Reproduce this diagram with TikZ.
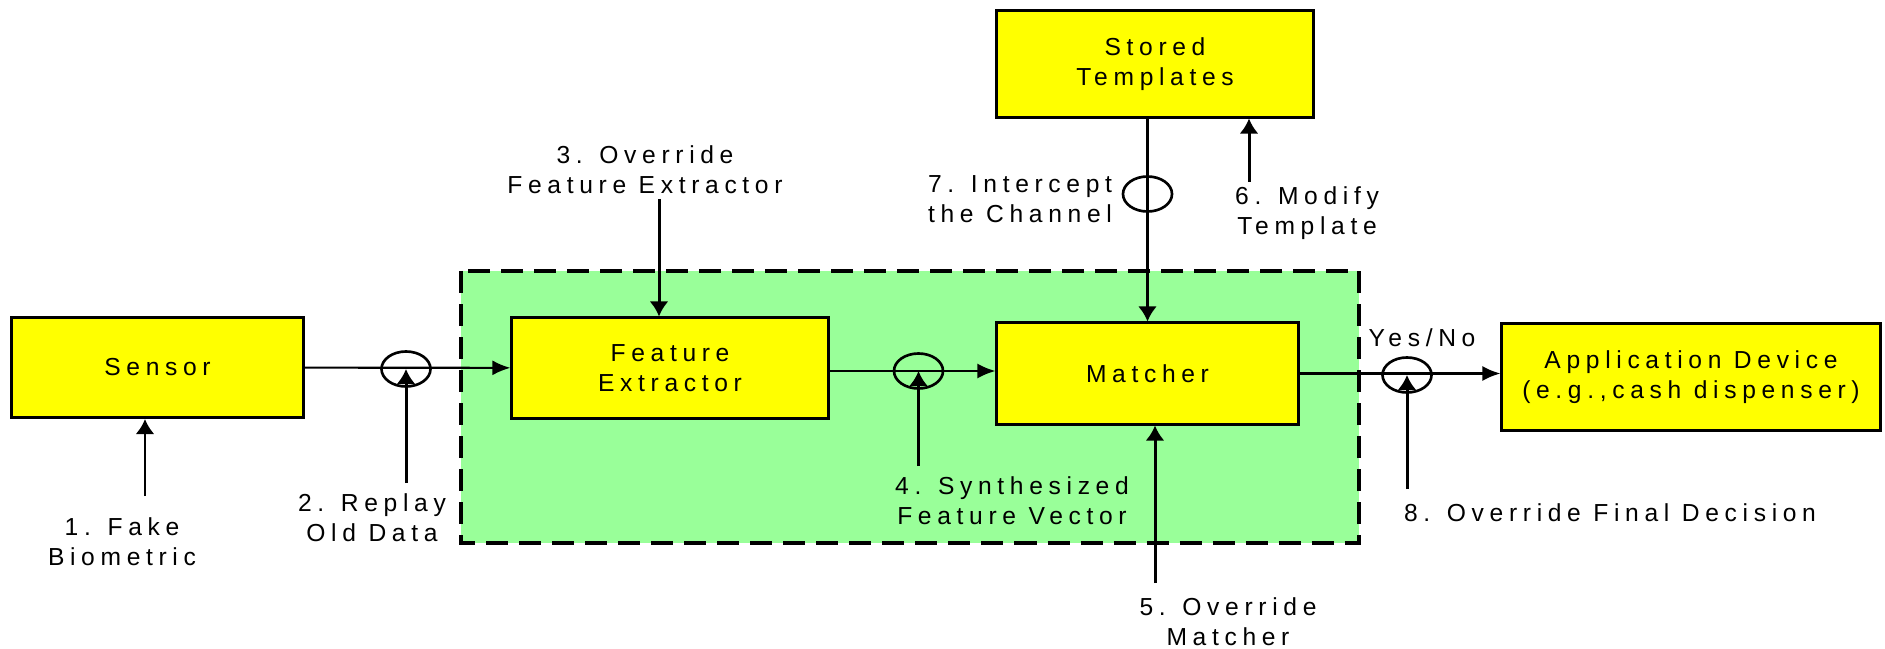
\documentclass[tikz,border=0pt]{standalone}
\usepackage{fontspec}
\setmainfont{Liberation Sans}[LetterSpace=23]
\usepackage{xcolor}
\usepackage{tikz}
\usetikzlibrary{calc}
\usetikzlibrary{arrows.meta}
\usetikzlibrary{shapes.geometric}
\definecolor{boxyellow}{RGB}{255,255,0}
\definecolor{zonegreen}{RGB}{153,255,153}

\begin{document}
\begin{tikzpicture}[x=0.01cm,y=-0.01cm,font=\fontsize{7}{8.5}\selectfont,
	block/.style={draw,line width=0.85pt,fill=boxyellow,align=center,inner sep=0pt},
	tap/.style={draw,ellipse,line width=0.75pt,inner sep=0pt,minimum width=0.49cm,minimum height=0.35cm},
	note/.style={align=center,inner sep=1pt},
	flow/.style={line width=0.6pt,-{Latex[length=1.8mm,width=1.5mm]}},
	attack/.style={line width=0.85pt,-{Latex[length=1.5mm,width=1.9mm]}}]
	\useasboundingbox (0,0) rectangle (1885,649);
	% system boundary
	\draw[fill=zonegreen,line width=1pt,dash pattern=on 0.22cm off 0.11cm] (461,271) rectangle (1359,543);
	% main blocks
	\node[block,minimum width=2.91cm,minimum height=1.00cm] (sensor) at (157.5,367.5) {Sensor};
	\node[block,minimum width=3.16cm,minimum height=1.00cm] (extractor) at (670,368) {Feature\\Extractor};
	\node[block,minimum width=3.01cm,minimum height=1.01cm] (matcher) at (1147.5,373.5) {Matcher};
	\node[block,minimum width=3.16cm,minimum height=1.06cm] (templates) at (1155,64) {Stored\\Templates};
	\node[block,minimum width=3.78cm,minimum height=1.06cm] (device) at (1691,377) {Application Device\\(e.g.,cash dispenser)};
	% taps on the channels
	\node[tap] (tap2) at (406,369) {};
	\node[tap] (tap4) at (918.5,371) {};
	\node[tap] (tap7) at (1147.5,194) {};
	\node[tap] (tap8) at (1407,375) {};
	% channels
	\draw[flow] (sensor) -- (extractor);
	\draw[flow] (extractor.east |- tap4) -- (matcher.west |- tap4);
	\draw[attack] (matcher |- templates.south) -- (matcher.north);
	\draw[flow] (matcher) -- (matcher -| device.west);
	% attack points
	\node[note] (lab1) at (122,542) {1. Fake\\Biometric};
	\node[note] (lab2) at (372,518) {2. Replay\\Old Data};
	\node[note] (lab3) at (645,170) {3. Override\\Feature Extractor};
	\node[note] (lab4) at (1012,501) {4. Synthesized\\Feature Vector};
	\node[note] (lab5) at (1228,622) {5. Override\\Matcher};
	\node[note] (lab6) at (1307,213) {6. Modify\\Template};
	\node[note] (lab7) at (1020,199) {7. Intercept\\the Channel};
	\node[note] (lab8) at (1610,513) {8. Override Final Decision};
	\node[note] (yesno) at (1422,338) {Yes/No};
	\coordinate (a1) at (145,496);
	\coordinate (a2) at (406,483);
	\coordinate (a3) at (659,199);
	\coordinate (a4) at (918.5,466);
	\coordinate (a5) at (1155,583);
	\coordinate (a6) at (1249,182);
	\coordinate (a8) at (1407,489);
	\draw[attack] (a1) -- (a1 |- sensor.south);
	\draw[attack] (a2) -- (tap2.center);
	\draw[attack] (a3) -- (a3 |- extractor.north);
	\draw[attack] (a4) -- (tap4.center);
	\draw[attack] (a5) -- (a5 |- matcher.south);
	\draw[attack] (a6) -- (a6 |- templates.south);
	\draw[attack] (a8) -- (tap8.center);
\end{tikzpicture}
\end{document}
